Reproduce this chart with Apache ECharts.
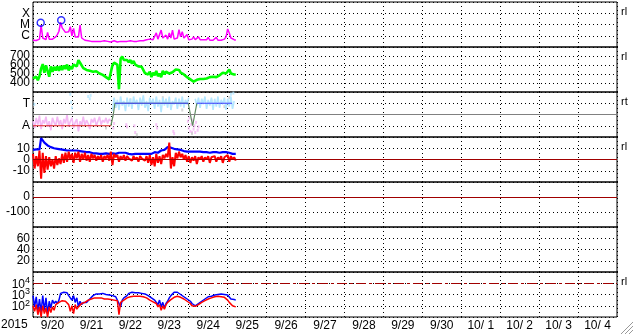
<!DOCTYPE html>
<html><head><meta charset="utf-8">
<script src="https://cdn.jsdelivr.net/npm/echarts@6/dist/echarts.min.js"></script>
<style>html,body{margin:0;padding:0;background:#fff}#c{width:633px;height:334px}</style>
</head><body><div id="c"></div>
<script>
// ---- labels ----
const dayLabels = ['9/20','9/21','9/22','9/23','9/24','9/25','9/26','9/27','9/28','9/29','9/30','10/ 1','10/ 2','10/ 3','10/ 4'];
const yearLabel = '2015';
const xrayTicks = {'-4':'X','-5':'M','-6':'C'};
const stateTicks = {'1':'T','-1':'A'};
const sideTags = ['rl','rl','rt','rl','','','rl'];

// ---- panel 1: X-ray flux, log10 W/m2, hourly from 9/20 00UT ----
const xrayLog = [-6.40,-6.38,-6.42,-6.40,-6.30,-5.05,-6.20,-6.30,-6.35,-5.70,-6.30,-6.35,-6.30,-6.25,-6.10,-5.90,-5.60,-4.80,-5.30,-5.50,
 -5.70,-5.85,-5.65,-5.20,-6.00,-5.35,-6.10,-6.20,-6.10,-5.05,-6.20,-6.30,-6.40,-6.50,-6.45,-6.30,-6.50,-6.55,-6.50,-6.35,
 -6.50,-6.55,-6.50,-6.50,-6.45,-6.55,-6.50,-6.50,-6.55,-6.50,-6.45,-6.50,-6.55,-6.50,-6.50,-6.45,-6.50,-6.55,-6.50,-6.50,
 -6.45,-6.40,-6.50,-6.45,-6.50,-6.35,-6.45,-6.40,-6.45,-6.40,-6.35,-6.40,-6.30,-6.40,-6.35,-6.30,-5.75,-6.30,-6.35,-5.50,
 -6.20,-6.30,-5.95,-6.30,-5.75,-6.20,-5.50,-6.30,-6.35,-6.20,-5.45,-6.10,-5.65,-6.20,-6.30,-5.90,-6.35,-6.40,-6.30,-6.10,
 -6.35,-6.20,-6.10,-6.35,-6.40,-6.35,-6.40,-6.35,-6.15,-6.40,-6.35,-6.40,-6.35,-6.15,-6.40,-6.35,-6.40,-6.35,-6.30,-6.10,
 -5.40,-5.75,-6.20,-6.30,-6.35,-6.40];
const flareHours = [4.75, 17.4];
const flareLog = [-4.84, -4.63];

// ---- panel 2: solar wind speed, hourly ----
const speed = [450,430,470,430,475,560,610,515,595,535,470,585,525,580,540,585,535,590,545,595,
 555,605,540,585,555,605,620,585,655,625,605,565,565,545,565,535,550,525,525,530,
 530,505,505,490,485,465,465,440,435,600,625,640,605,330,670,695,655,645,655,630,
 655,615,645,605,605,585,585,580,565,510,495,495,525,465,515,485,535,475,505,465,
 535,495,525,535,505,525,520,520,550,555,545,515,515,495,495,465,465,440,435,415,
 400,435,415,445,445,445,450,450,445,465,445,470,450,465,465,485,485,515,525,505,
 515,550,505,500,495,495];

// ---- panel 3: T / A state ----
const aBand = [-0.6,-1.2,-0.3,-0.9,-0.1,-1.3,-0.5,-0.8,-0.2,-1.1,-0.6,-1.4,-0.3,-0.7,-1.0,-0.2,-0.9,-0.5,-1.3,-0.4,
 -0.8,0.0,-1.1,-0.6,-0.3,-1.2,-0.7,-0.4,-1.5,-0.6,-0.9,-0.2,-1.0,-0.5,-0.8,-1.3,-0.4,-0.7,-0.3,-1.0,
 -0.6,-0.2,-0.9,-0.5,-0.7,-0.3,-0.8,-0.4,-0.6];
const tBandStart = 49;
const tBand = [0.3,1.5,0.6,1.3,0.4,1.6,0.8,1.2,0.3,1.5,0.7,1.4,0.5,1.6,0.9,1.3,0.4,1.5,0.8,1.7,
 0.6,1.2,0.3,1.5,0.9,1.4,0.5,1.6,0.7,1.3,0.2,1.5,0.8,1.4,0.6,1.6,0.4,1.2,0.9,1.5,
 0.5,1.4,0.7,1.6,0.6,1.3,0.9,1.5,null,1.6,null,1.4,0.8,1.5,0.6,1.4,0.9,1.6,0.5,1.3,
 0.8,1.5,0.4,1.4,0.7,1.6,0.6,1.3,0.9,1.5,0.4,1.4,0.7,1.6,0.5,1.2];
const tDotHours = [0.8, 23, 23.5, 24, 34, 35, 35.5, 122, 123.5];
const tDotVals  = [0.9, 1.8, 1.1, 0.6, 1.6, 1.4, 1.7, 1.8, 1.9];
const aDotHours = [49.5,50,57.5,58,62.5,63,76,76.5,86.5,87,95.5,96,96.5,97,97.5,98,98.5,99,99.5,100,100.5,101.5,102];
const aDotVals  = [-1.2,-0.8,-0.9,-1.1,-1.0,-1.6,-0.9,-1.2,-1.5,-1.7,-0.6,-1.2,-0.3,-1.5,-0.9,-1.6,-0.5,-1.3,-1.0,-1.6,-0.7,-1.4,-1.1];
const grayDotHours = [30,45,60,64,70,80,88,92,98,110,118,121];
const grayDotVals  = [-0.9,-1.2,1.3,-1.8,0.9,1.5,1.1,0.4,-1.7,1.2,0.7,1.5];
const stateRedHours = [0, 48];
const stateRedVals  = [-1, -1];
const transHours = [48, 49.5, 50.5, 95.7, 98.4, 101];
const transVals  = [-1, 0, 1, 1, -1, 1];
const stateBlueHours = [50.5, 95.7, 98, 101, 122.7];
const stateBlueVals  = [1, 1, null, 1, 1];

// ---- panel 4: IMF Bt (blue) / Bz (red), nT ----
const bt = [8.5,8,9,8.5,9,19,17,15,13.5,12.5,11.5,11,10.5,10,10,9.5,9.5,9,9,8.5,
 8.5,8,8.5,8,8,8,7.5,8,8,7.5,7.5,7,7,6.5,7,6.5,6,5.5,5,5.5,
 5,5,5.5,5,5,5.5,5,5,6,5.5,6,5,5.5,6,5.5,6,7,6,5,5,
 5,4.5,5,5,4.5,5,5,5,4.5,5,5,5,5.5,5,6,6.5,6.5,6,7,8,
 9,8.5,9.5,11,11.5,10.5,10,9.5,10,9,8.5,8.5,8,7.5,7,7,6.5,7,6.5,7,
 6.5,7,6.5,7,6.5,6.5,7,6.5,6.5,6,6.5,6.5,6,6.5,6.5,6,6.5,6.5,6,6.5,
 6,6,5.5,5,5.5,5];
const bz = [5,-8,3,-6,8,-17,6,-12,3,-9,2,-6,0,-8,3,-5,1,-4,5,-3,
 6,-2,7,0,5,-3,6,1,7,-2,5,0,6,-1,4,-2,5,1,4,-1,
 3,0,4,-2,3,1,4,-1,7,-5,5,2,4,-2,3,0,4,-1,3,1,
 2,-1,3,0,2,-2,3,1,2,-1,3,-3,4,-5,2,-6,5,-3,3,-4,
 4,1,5,2,15,-8,2,-6,6,1,7,2,5,0,4,-2,3,-3,2,-1,
 3,-4,2,0,3,-2,2,0,3,-3,2,1,3,-2,2,0,3,-3,2,1,
 4,-2,3,0,2,-1];

// ---- panel 7: particle flux, log10 ----
const fluxBlue = [2.9,1.9,2.8,1.5,2.6,1.4,2.9,1.6,2.7,1.3,2.4,1.8,2.5,2.2,2.4,2.2,2.5,3.1,3.25,3.2,
 3.1,3.15,2.9,2.8,2.5,2.9,2.3,2.7,1.9,2.4,2.1,2.3,2.2,2.3,2.4,2.6,2.7,2.9,3.0,3.05,
 3.1,3.05,3.0,3.1,3.05,3.0,3.0,2.95,2.9,2.9,2.85,2.8,2.7,2.2,1.9,2.5,2.7,2.85,2.9,3.1,
 3.15,3.2,3.2,3.15,3.2,3.15,3.15,3.1,3.1,3.05,3.0,2.9,2.8,2.7,2.6,2.5,2.4,2.1,2.5,1.9,
 2.3,1.8,2.2,2.4,2.7,2.9,3.0,3.2,3.3,3.2,3.1,3.0,2.9,2.8,2.7,2.6,2.5,2.4,2.2,2.1,
 2.0,2.1,2.2,2.3,2.4,2.5,2.6,2.7,2.8,2.8,2.85,2.9,2.95,3.0,3.0,3.05,3.05,3.0,3.0,3.0,
 2.95,2.8,2.6,2.5,2.55,2.5];
const fluxRed = [2.0,1.5,2.1,1.2,1.9,1.0,2.0,1.3,1.8,1.0,1.9,1.4,1.9,1.6,2.1,2.2,2.3,2.4,2.45,2.5,
 2.4,2.3,2.1,1.5,2.0,1.3,2.1,1.7,1.9,2.0,2.2,2.25,2.3,2.4,2.5,2.55,2.6,2.65,2.7,2.7,
 2.7,2.65,2.7,2.65,2.6,2.65,2.6,2.6,2.55,2.55,2.5,2.5,2.45,1.2,2.3,2.4,2.5,2.6,2.7,2.75,
 2.8,2.85,2.85,2.9,2.85,2.9,2.85,2.8,2.8,2.75,2.7,2.6,2.5,2.4,2.35,2.3,2.2,1.9,2.1,1.6,
 2.0,1.7,2.1,2.3,2.4,2.55,2.65,2.75,2.85,2.85,2.8,2.75,2.7,2.6,2.5,2.4,2.3,2.2,2.0,1.9,
 1.95,2.0,2.1,2.2,2.3,2.35,2.45,2.55,2.6,2.65,2.7,2.75,2.8,2.85,2.85,2.85,2.8,2.8,2.75,2.7,
 2.5,2.3,2.2,2.0,2.1,1.9];

// ---- build ----
const hourly = (arr, start) => arr.map((v, i) => [i + (start || 0), v]);
const pairs = (hs, vs) => hs.map((h, i) => [h, vs[i]]);

const FONT = 'Liberation Sans, Arial, sans-serif';
const L = 33, W = 584, TOP = 2, PH = 45;
const dotted = {color: '#000', type: [1, 3], width: 1};

const panels = [
  {min: -7, max: -3, interval: 1, fmt: v => xrayTicks[String(v)] || ''},
  {min: 300, max: 800, interval: 100, fmt: v => (v > 300 && v < 800) ? String(v) : ''},
  {min: -2, max: 2, interval: 1, fmt: v => stateTicks[String(v)] || ''},
  {min: -20, max: 20, interval: 10, fmt: v => (v > -20 && v < 20) ? String(v) : ''},
  {min: -200, max: 100, interval: 100, fmt: v => (v > -200 && v < 100) ? String(v) : ''},
  {min: 0, max: 80, interval: 20, fmt: v => (v > 0 && v < 80) ? String(v) : ''},
  {min: 1, max: 5, interval: 1, fmt: v => (v > 1 && v < 5) ? '{b|10}{s|' + v + '}' : ''}
];

const grid = [], xAxis = [], yAxis = [];
panels.forEach((p, i) => {
  grid.push({left: L, width: W, top: TOP + PH * i, height: PH, show: true, borderColor: '#000', borderWidth: 1, backgroundColor: 'transparent'});
  xAxis.push({type: 'value', gridIndex: i, min: 0, max: 360, interval: 24,
    axisLine: {show: false}, axisTick: {show: false}, axisLabel: {show: false},
    splitLine: {show: true, lineStyle: dotted}});
  yAxis.push({type: 'value', gridIndex: i, min: p.min, max: p.max, interval: p.interval,
    axisLine: {show: false}, axisTick: {show: false},
    axisLabel: {show: true, formatter: p.fmt, color: '#000', fontSize: 12, fontFamily: FONT, margin: 3,
      rich: {b: {fontSize: 12, fontFamily: FONT, color: '#000', verticalAlign: 'bottom', lineHeight: 14},
             s: {fontSize: 9, fontFamily: FONT, color: '#000', verticalAlign: 'top', lineHeight: 14}}},
    splitLine: {show: true, lineStyle: dotted}});
});
xAxis.push({type: 'category', gridIndex: 6, data: dayLabels, boundaryGap: true, position: 'bottom',
  axisLine: {show: false}, axisTick: {show: false}, splitLine: {show: false},
  axisLabel: {interval: 0, color: '#000', fontSize: 12, fontFamily: FONT, margin: 3}});

const mk = (val, color, type) => ({silent: true, symbol: 'none', label: {show: false},
  lineStyle: {color: color, type: type || 'solid', width: 1}, data: [{yAxis: val}]});
const line = (i, data, color, w, extra) => Object.assign({type: 'line', xAxisIndex: i, yAxisIndex: i, data: data,
  showSymbol: false, symbol: 'none', lineStyle: {color: color, width: w}, itemStyle: {color: color}, z: 3}, extra || {});

const series = [
  line(0, hourly(xrayLog), '#ff00ff', 1.5),
  {type: 'scatter', xAxisIndex: 0, yAxisIndex: 0, data: pairs(flareHours, flareLog), symbol: 'circle', symbolSize: 7,
    itemStyle: {color: 'rgba(0,0,0,0)', borderColor: '#0000ff', borderWidth: 1.5}, z: 4},
  line(1, hourly(speed), '#00ff00', 2.6),
  line(2, hourly(aBand), '#f4b8f4', 1.6),
  line(2, hourly(tBand, tBandStart), '#b4e6ff', 1.6),
  {type: 'scatter', xAxisIndex: 2, yAxisIndex: 2, data: pairs(tDotHours, tDotVals), symbol: 'rect', symbolSize: [2, 3], itemStyle: {color: '#b4e6ff'}},
  {type: 'scatter', xAxisIndex: 2, yAxisIndex: 2, data: pairs(aDotHours, aDotVals), symbol: 'rect', symbolSize: [2, 3], itemStyle: {color: '#f4b8f4'}},
  {type: 'scatter', xAxisIndex: 2, yAxisIndex: 2, data: pairs(grayDotHours, grayDotVals), symbol: 'rect', symbolSize: [2, 3], itemStyle: {color: '#cccccc'}},
  line(2, pairs(transHours, transVals), '#5f8a5f', 1.2, {z: 4, markLine: mk(0, '#808080')}),
  line(2, pairs(stateRedHours, stateRedVals), '#e02020', 1.2, {z: 5}),
  line(2, pairs(stateBlueHours, stateBlueVals), '#4040ff', 1.2, {z: 5, connectNulls: false}),
  line(3, hourly(bt), '#0000ff', 2.2, {markLine: mk(0, '#a00000')}),
  line(3, hourly(bz), '#ff0000', 2, {z: 4}),
  line(4, [], '#000', 1, {markLine: mk(0, '#a00000')}),
  line(6, hourly(fluxBlue), '#0000ff', 1.5, {markLine: mk(4, '#a00000', [10, 3, 3, 3])}),
  line(6, hourly(fluxRed), '#ff0000', 1.5, {z: 4})
];

const tagY = [6, 51, 96, 141, 0, 0, 276];
const graphic = [{type: 'text', left: 1, top: 319, style: {text: yearLabel, font: '12px ' + FONT, fill: '#000'}}];
sideTags.forEach((t, i) => { if (t) graphic.push({type: 'text', left: 621, top: tagY[i], style: {text: t, font: '11px ' + FONT, fill: '#000'}}); });
[0, 4, 8].forEach(o => graphic.push({type: 'line', shape: {x1: 633, y1: 322 + o, x2: 621 + o, y2: 334}, style: {stroke: '#999', lineWidth: 1}}));

const chart = echarts.init(document.getElementById('c'), null, {renderer: 'canvas'});
chart.setOption({animation: false, backgroundColor: '#fff', grid, xAxis, yAxis, series, graphic});
</script></body></html>
